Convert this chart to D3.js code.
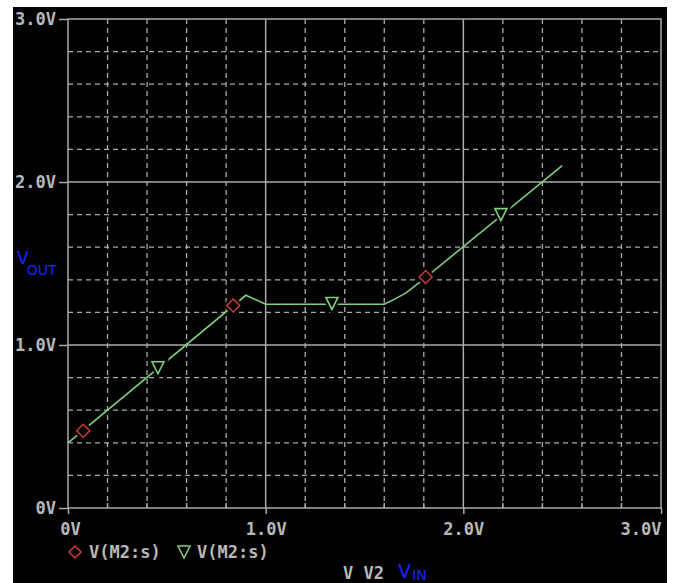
<!DOCTYPE html>
<html><head><meta charset="utf-8">
<script src="https://cdn.jsdelivr.net/npm/d3@7/dist/d3.min.js"></script>
<style>html,body{margin:0;padding:0;background:#fff;}svg{display:block}</style>
</head><body><svg id="c" width="675" height="583"></svg>
<script>
// ---- data ----
const vin  = [0.00, 0.90, 1.00, 1.60, 1.65, 1.71, 1.78, 2.50];
const vout = [0.40, 1.305, 1.25, 1.25, 1.28, 1.32, 1.385, 2.10];
const diamondVin  = [0.077, 0.836, 1.809];
const diamondVout = [0.474, 1.242, 1.417];
const triVin  = [0.455, 1.335, 2.19];
const triVout = [0.86, 1.255, 1.80];
const xTickVals = [0, 1, 2, 3];
const xTickLabels = ["0V", "1.0V", "2.0V", "3.0V"];
const yTickVals = [0, 1, 2, 3];
const yTickLabels = ["0V", "1.0V", "2.0V", "3.0V"];
const minorStep = 0.2;
const legendLabels = ["V(M2:s)", "V(M2:s)"];

// ---- drawing ----
const svg = d3.select("#c");
const AX = "#aaaaaa", TXT = "#b8b8b8", GRN = "#7fcf7f", RED = "#cc3b3b", BLUE = "#1428ff";
const FS = "17px";
svg.append("rect").attr("x",13).attr("y",7).attr("width",654).attr("height",576).attr("fill","#000");

const x = d3.scaleLinear().domain([0,3]).range([68,661]);
const y = d3.scaleLinear().domain([0,3]).range([508,19]);

const minors = d3.range(0, 3 + 1e-9, minorStep).map(v => +v.toFixed(2)).filter(v => Math.abs(v - Math.round(v)) > 1e-6);
const g = svg.append("g");
// minor dashed grid
g.selectAll(".vm").data(minors).join("line")
  .attr("x1", d => x(d)).attr("x2", d => x(d)).attr("y1", y(3)).attr("y2", y(0))
  .attr("stroke", AX).attr("stroke-width", 1.3).attr("stroke-dasharray", "5,4");
g.selectAll(".hm").data(minors).join("line")
  .attr("y1", d => y(d)).attr("y2", d => y(d)).attr("x1", x(0)).attr("x2", x(3))
  .attr("stroke", AX).attr("stroke-width", 1.3).attr("stroke-dasharray", "5,4");
// major solid grid
g.selectAll(".vM").data([1,2]).join("line")
  .attr("x1", d => x(d)).attr("x2", d => x(d)).attr("y1", y(3)).attr("y2", y(0))
  .attr("stroke", AX).attr("stroke-width", 1.5);
g.selectAll(".hM").data([1,2]).join("line")
  .attr("y1", d => y(d)).attr("y2", d => y(d)).attr("x1", x(0)).attr("x2", x(3))
  .attr("stroke", AX).attr("stroke-width", 1.5);
// border
g.append("rect").attr("x", x(0)).attr("y", y(3)).attr("width", x(3)-x(0)).attr("height", y(0)-y(3))
  .attr("fill","none").attr("stroke", AX).attr("stroke-width", 1.5);

// axes
const fontMono = "'DejaVu Sans Mono', monospace";
const xAxis = d3.axisBottom(x).tickValues(xTickVals).tickFormat((d,i) => xTickLabels[i]).tickSize(6).tickPadding(9);
const xa = svg.append("g").attr("transform", `translate(0,${y(0)})`).call(xAxis);
xa.select(".domain").remove();
xa.selectAll(".tick line").attr("stroke", AX).attr("stroke-width", 1.5);
xa.selectAll(".tick text").attr("fill", TXT).style("font-family", fontMono).style("font-size",FS).style("font-weight","bold")
  .attr("text-anchor", (d,i) => i === xTickVals.length-1 ? "end" : "middle")
  .attr("dx", (d,i) => i === 0 ? 2 : 0);
// minor x ticks (inward)
svg.append("g").selectAll("line").data(minors).join("line")
  .attr("x1", d => x(d)).attr("x2", d => x(d)).attr("y1", y(0)-5).attr("y2", y(0))
  .attr("stroke", AX).attr("stroke-width", 1.5);

const yAxis = d3.axisLeft(y).tickValues(yTickVals).tickFormat((d,i) => yTickLabels[i]).tickSize(9).tickPadding(3);
const ya = svg.append("g").attr("transform", `translate(${x(0)},0)`).call(yAxis);
ya.select(".domain").remove();
ya.selectAll(".tick line").attr("stroke", AX).attr("stroke-width", 1.5);
ya.selectAll(".tick text").attr("fill", TXT).style("font-family", fontMono).style("font-size",FS).style("font-weight","bold");

// curve
const pts = vin.map((v,i) => [v, vout[i]]);
svg.append("path").datum(pts)
  .attr("d", d3.line().x(d => x(d[0])).y(d => y(d[1])))
  .attr("fill","none").attr("stroke", GRN).attr("stroke-width", 1.6);

// markers
const diamond = (cx, cy, r) => `M${cx},${cy-r}L${cx+r},${cy}L${cx},${cy+r}L${cx-r},${cy}Z`;
const tri = (cx, cy) => `M${cx-6},${cy-6}L${cx+6},${cy-6}L${cx},${cy+6}Z`;
const dm = diamondVin.map((v,i) => [v, diamondVout[i]]);
const tm = triVin.map((v,i) => [v, triVout[i]]);
svg.append("g").selectAll("path").data(dm).join("path")
  .attr("d", d => diamond(x(d[0]), y(d[1]), 6.5)).attr("fill","#000").attr("stroke","#000").attr("stroke-width", 6);
svg.append("g").selectAll("path").data(dm).join("path")
  .attr("d", d => diamond(x(d[0]), y(d[1]), 6.5)).attr("fill","#000").attr("stroke", RED).attr("stroke-width", 1.5);
svg.append("g").selectAll("path").data(tm).join("path")
  .attr("d", d => tri(x(d[0]), y(d[1]))).attr("fill","#000").attr("stroke","#000").attr("stroke-width", 6);
svg.append("g").selectAll("path").data(tm).join("path")
  .attr("d", d => tri(x(d[0]), y(d[1]))).attr("fill","#000").attr("stroke", GRN).attr("stroke-width", 1.6);

// legend
const lg = svg.append("g");
lg.append("path").attr("d", diamond(75, 552, 6)).attr("fill","none").attr("stroke", RED).attr("stroke-width", 1.5);
lg.append("text").attr("x", 89).attr("y", 558).text(legendLabels[0])
  .attr("fill", TXT).style("font-family", fontMono).style("font-size",FS).style("font-weight","bold");
lg.append("path").attr("d", tri(184, 552)).attr("fill","none").attr("stroke", GRN).attr("stroke-width", 1.5);
lg.append("text").attr("x", 197).attr("y", 558).text(legendLabels[1])
  .attr("fill", TXT).style("font-family", fontMono).style("font-size",FS).style("font-weight","bold");

// axis titles
svg.append("text").attr("x", 343).attr("y", 579).text("V V2")
  .attr("fill", TXT).style("font-family", fontMono).style("font-size",FS).style("font-weight","bold");
const vinT = svg.append("text").attr("x", 398).attr("y", 578).attr("fill", BLUE).style("font-family","'DejaVu Sans', sans-serif");
vinT.append("tspan").text("V").style("font-size","19px");
vinT.append("tspan").text("IN").style("font-size","14px").attr("dy", 2).attr("dx", 1);
const voutT = svg.append("text").attr("x", 17).attr("y", 264).attr("fill", BLUE).style("font-family","'DejaVu Sans', sans-serif");
voutT.append("tspan").text("V").style("font-size","17px");
voutT.append("tspan").text("OUT").style("font-size","14px").attr("dy", 11).attr("dx", -2);
</script></body></html>
